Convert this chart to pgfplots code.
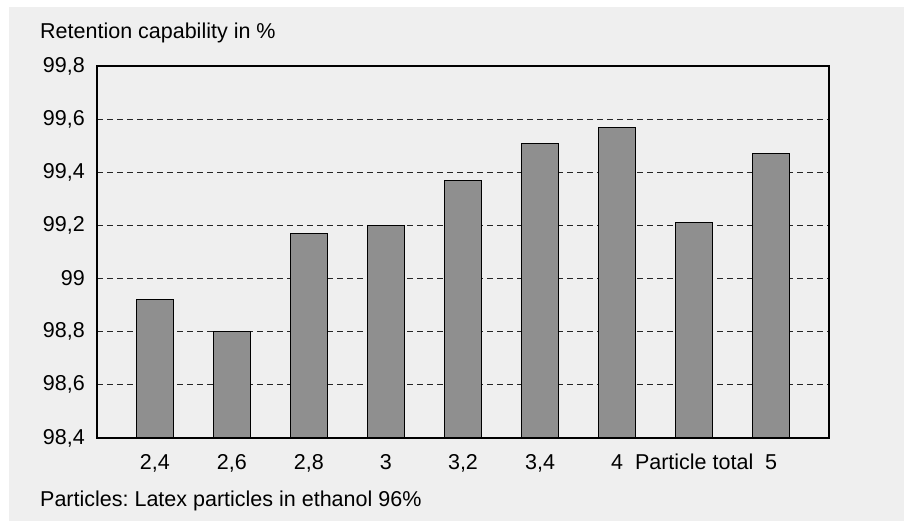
\documentclass[border=0pt]{standalone}
\usepackage{pgfplots}
\pgfplotsset{compat=1.18}
\usepackage{fontspec}
\setmainfont{Liberation Sans}
\frenchspacing
\definecolor{bgGray}{HTML}{EFEFEF}
\definecolor{barGray}{HTML}{8F8F8F}
\begin{document}
\begin{tikzpicture}[x=1pt,y=1pt]
\fill[white] (0,0) rectangle (904,521);
\fill[bgGray] (9,0) rectangle (904,514);
\node[anchor=base west, inner sep=0pt, font=\fontsize{21.5}{25}\selectfont] at (40,482) {Retention capability in \%};
\node[anchor=base west, inner sep=0pt, font=\fontsize{21.5}{25}\selectfont] at (40,14) {\frenchspacing Particles: Latex particles in ethanol 96\%};
\begin{axis}[
  at={(97pt,83pt)}, anchor=south west,
  scale only axis, width=732pt, height=372pt,
  xmin=0.25, xmax=9.75, ymin=98.4, ymax=99.8,
  xtick={1,2,3,4,5,6,7,8,9},
  xticklabels={{2,4},{2,6},{2,8},{3},{3,2},{3,4},{4},{Particle total},{5}},
  ytick={98.4,98.6,98.8,99,99.2,99.4,99.6,99.8},
  yticklabels={{98,4},{98,6},{98,8},{99},{99,2},{99,4},{99,6},{99,8}},
  major tick length=0pt,
  ticklabel style={font=\fontsize{21.5}{25}\selectfont},
  xticklabel style={anchor=base, inner sep=0pt, yshift=-32pt},
  yticklabel style={anchor=east, inner sep=0pt, xshift=-12pt},
  ymajorgrids,
  major grid style={dash pattern=on 6pt off 4pt, line width=1pt, black!85},
  axis line style={line width=1.2pt, black},
  axis background/.style={fill=bgGray},
  ybar, bar width=37pt,
]
\addplot[fill=barGray, draw=black, line width=1pt] coordinates {
  (1,98.92) (2,98.80) (3,99.17) (4,99.20) (5,99.37) (6,99.51) (7,99.57) (8,99.21) (9,99.47)
};
\end{axis}
\end{tikzpicture}
\end{document}
